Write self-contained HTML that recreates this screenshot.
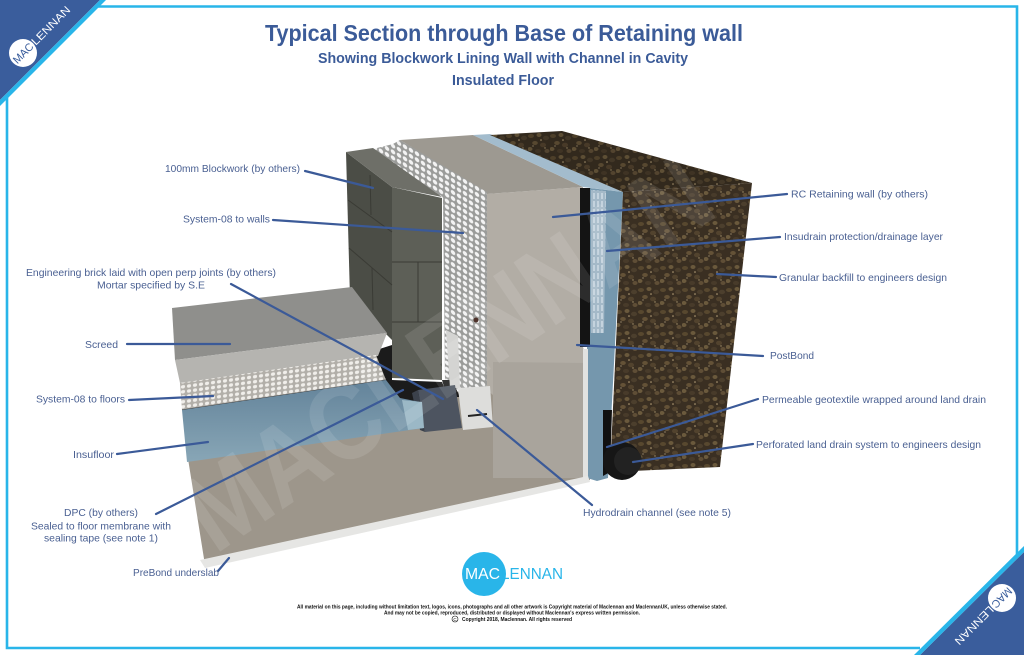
<!DOCTYPE html>
<html><head><meta charset="utf-8"><style>
html,body{margin:0;padding:0;background:#fff;width:1024px;height:655px;overflow:hidden}
svg{display:block}
</style></head><body>
<svg width="1024" height="655" viewBox="0 0 1024 655" xmlns="http://www.w3.org/2000/svg" font-family="'Liberation Sans', Arial, sans-serif">
<defs>
<pattern id="soil" width="22" height="22" patternUnits="userSpaceOnUse">
<rect width="22" height="22" fill="#3a2f22"/>
<ellipse cx="3" cy="4" rx="3" ry="2" fill="#58482f"/>
<ellipse cx="11" cy="3" rx="2.5" ry="2" fill="#6a593c"/>
<ellipse cx="18" cy="6" rx="3" ry="2.2" fill="#4c3f2d"/>
<ellipse cx="7" cy="11" rx="2.8" ry="2" fill="#645237"/>
<ellipse cx="15" cy="13" rx="3" ry="2.3" fill="#52432e"/>
<ellipse cx="2" cy="17" rx="2.5" ry="2" fill="#6b5a3d"/>
<ellipse cx="10" cy="19" rx="3" ry="2" fill="#483b2a"/>
<ellipse cx="19" cy="19" rx="2.5" ry="2" fill="#5f4e36"/>
<circle cx="13" cy="8" r="0.8" fill="#b8a27a"/>
<circle cx="5" cy="14" r="0.6" fill="#c0ad88"/>
<circle cx="17" cy="16" r="0.7" fill="#a8956e"/>
</pattern>
<pattern id="dimW" width="6" height="6" patternUnits="userSpaceOnUse" patternTransform="skewY(30)">
<rect width="6" height="6" fill="#9a9b99"/><ellipse cx="3" cy="3" rx="2.3" ry="2.1" fill="#f3f3f3"/>
</pattern>
<pattern id="dimF" width="6" height="5" patternUnits="userSpaceOnUse" patternTransform="skewY(-8)">
<rect width="6" height="5" fill="#b2afa9"/><ellipse cx="3" cy="2.5" rx="2.1" ry="1.7" fill="#f0eeea"/>
</pattern>
<pattern id="drn" width="4" height="8" patternUnits="userSpaceOnUse">
<rect width="4" height="8" fill="#a4b9c8"/><rect x="1" y="1" width="2" height="6" fill="#c4d3de"/>
</pattern>
<linearGradient id="ins" x1="0" y1="0" x2="0" y2="1">
<stop offset="0" stop-color="#63839a"/><stop offset="1" stop-color="#88a6b6"/>
</linearGradient>
</defs>

<!-- frame -->
<polyline points="96,6.5 1017,6.5 1017,556" fill="none" stroke="#29b5e9" stroke-width="2.6"/>
<polyline points="7,96 7,648 920,648" fill="none" stroke="#29b5e9" stroke-width="2.6"/>
<polygon points="0,0 100,0 0,100" fill="#3a5d9c"/>
<polygon points="100,0 106,0 0,106 0,100" fill="#29b5e9"/>
<circle cx="23" cy="53" r="14" fill="#fff"/>
<g transform="translate(23,53) rotate(-45)">
<text x="-12" y="4" font-size="11" fill="#3a5d9c" textLength="24" lengthAdjust="spacingAndGlyphs">MAC</text>
<text x="14" y="4" font-size="11" fill="#fff" textLength="50" lengthAdjust="spacingAndGlyphs">LENNAN</text>
</g>
<polygon points="1024,552 1024,655 920,655" fill="#3a5d9c"/>
<polygon points="1024,546 1024,552 920,655 914,655" fill="#29b5e9"/>
<circle cx="1002" cy="598" r="14" fill="#fff"/>
<g transform="translate(1002,598) rotate(135)">
<text x="-12" y="4" font-size="11" fill="#3a5d9c" textLength="24" lengthAdjust="spacingAndGlyphs">MAC</text>
<text x="14" y="4" font-size="11" fill="#fff" textLength="50" lengthAdjust="spacingAndGlyphs">LENNAN</text>
</g>

<!-- titles -->
<text x="265" y="41" font-size="23" font-weight="bold" fill="#3b5b98" textLength="478" lengthAdjust="spacingAndGlyphs">Typical Section through Base of Retaining wall</text>
<text x="318" y="63" font-size="14.5" font-weight="bold" fill="#3b5b98" textLength="370" lengthAdjust="spacingAndGlyphs">Showing Blockwork Lining Wall with Channel in Cavity</text>
<text x="452" y="85" font-size="14.5" font-weight="bold" fill="#3b5b98" textLength="102" lengthAdjust="spacingAndGlyphs">Insulated Floor</text>

<!-- base slab -->
<polygon points="185,440 422,400 487,385 587,360 590,480 205,565" fill="#9d968b"/>
<!-- wall front face -->
<polygon points="487,194 583,187 583,347 588,363 588,478 493,478 493,395 487,390" fill="#b2ada5"/>
<polygon points="493,362 588,363 588,478 493,478" fill="#a9a49c"/>
<!-- wall top -->
<polygon points="400,140 473,135 583,187 487,194" fill="#9d9991"/>
<!-- blue top -->
<polygon points="473,135 490,134 623,192 583,187" fill="#a3bccd"/>
<!-- postbond black strip -->
<polygon points="580,188 591,188 591,347 580,347" fill="#141414"/>
<!-- blue front -->
<polygon points="590,188 623,192 608,478 597,481 587,478 587,347 590,347" fill="#7597ad"/>
<polygon points="591,190 606,191 604,333 591,333" fill="url(#drn)"/>
<polygon points="583,349 588,349 588,478 583,478" fill="#e2e2e0"/>
<!-- backfill -->
<polygon points="490,135 562,131 752,183 623,192" fill="url(#soil)"/>
<polygon points="490,135 562,131 752,183 623,192" fill="#000" opacity="0.12"/>
<polygon points="623,192 752,183 720,467 610,472" fill="url(#soil)"/>
<polygon points="603,410 612,410 610,472 603,476" fill="#111"/>
<!-- land drain -->
<circle cx="622" cy="461" r="19" fill="#161616"/>
<circle cx="628" cy="461" r="14" fill="#222"/>

<!-- system-08 wall panel -->
<polygon points="393,144 400,140 487,192 487,388 462,392 445,382 443,198 373,149" fill="url(#dimW)"/>
<circle cx="476" cy="320" r="2.5" fill="#3a1a12"/>

<!-- blockwork -->
<polygon points="346,152 392,187 392,340 350,298" fill="#4b4d46"/>
<polygon points="392,187 442,198 442,380 392,378" fill="#5d5f57"/>
<polygon points="346,152 373,148 442,197 392,187" fill="#6e6f68"/>
<g stroke="#3a3b35" stroke-width="1" fill="none">
<line x1="348" y1="200" x2="392" y2="232"/>
<line x1="349" y1="248" x2="392" y2="285"/>
<line x1="392" y1="262" x2="442" y2="262"/>
<line x1="392" y1="322" x2="442" y2="322"/>
<line x1="370" y1="175" x2="371" y2="215"/>
<line x1="372" y1="268" x2="373" y2="310"/>
<line x1="418" y1="262" x2="418" y2="322"/>
</g>
<!-- black DPC -->
<polygon points="367,353 392,345 392,380 442,382 447,394 420,402 398,400 380,380 375,358" fill="#1b1b1b"/>
<polygon points="442,380 452,380 460,397 447,397" fill="#1b1b1b"/>
<!-- channel -->
<polygon points="446,330 458,336 460,388 450,388" fill="#d4d4d2"/>
<polygon points="458,388 490,386 493,427 463,430" fill="#dddddb"/>
<line x1="468" y1="416" x2="487" y2="414" stroke="#222" stroke-width="2"/>
<!-- brick -->
<polygon points="418,390 455,385 462,428 425,432" fill="#4d5460"/>
<polygon points="412,393 418,390 425,432 420,430" fill="#3b414b"/>

<!-- screed -->
<polygon points="172,308 352,287 387,333 175,360" fill="#8f8f8c"/>
<polygon points="175,360 387,333 378,356 180,383" fill="#b5b4b0"/>
<!-- dimple floor -->
<polygon points="180,383 376,355 386,380 182,410" fill="url(#dimF)"/>
<line x1="182" y1="410" x2="386" y2="380" stroke="#444" stroke-width="1"/>
<!-- insufloor -->
<polygon points="182,410 386,380 400,398 420,402 424,428 187,462" fill="url(#ins)"/>
<polygon points="402,400 422,402 424,428 408,430" fill="#9bb8c6"/>
<!-- prebond -->
<polygon points="200,560 588,476 590,482 205,568" fill="#e6e6e4"/>

<!-- watermark -->
<text transform="translate(215,555) rotate(-34)" font-size="110" font-weight="bold" fill="#fff" opacity="0.10" textLength="610" lengthAdjust="spacingAndGlyphs">MACLENNAN</text>

<!-- leader lines -->
<g stroke="#3b5a98" stroke-width="2.2" stroke-linecap="round" fill="none">
<line x1="305" y1="171" x2="373" y2="188"/>
<line x1="273" y1="220" x2="463" y2="233"/>
<line x1="231" y1="284" x2="443" y2="399"/>
<line x1="127" y1="344" x2="230" y2="344"/>
<line x1="129" y1="400" x2="213" y2="396"/>
<line x1="117" y1="454" x2="208" y2="442"/>
<line x1="156" y1="514" x2="403" y2="390"/>
<line x1="218" y1="571" x2="229" y2="558"/>
<line x1="592" y1="505" x2="477" y2="410"/>
<line x1="787" y1="194" x2="553" y2="217"/>
<line x1="780" y1="237" x2="607" y2="251"/>
<line x1="776" y1="277" x2="717" y2="274"/>
<line x1="763" y1="356" x2="577" y2="345"/>
<line x1="758" y1="399" x2="607" y2="447"/>
<line x1="753" y1="444" x2="633" y2="462"/>
</g>

<!-- labels -->
<g font-size="10.3" fill="#4a6092">
<text x="165" y="172" textLength="135" lengthAdjust="spacingAndGlyphs">100mm Blockwork (by others)</text>
<text x="183" y="222.5" textLength="87" lengthAdjust="spacingAndGlyphs">System-08 to walls</text>
<text x="26" y="276" textLength="250" lengthAdjust="spacingAndGlyphs">Engineering brick laid with open perp joints (by others)</text>
<text x="97" y="288.5" textLength="108" lengthAdjust="spacingAndGlyphs">Mortar specified by S.E</text>
<text x="85" y="348" textLength="33" lengthAdjust="spacingAndGlyphs">Screed</text>
<text x="36" y="402.5" textLength="89" lengthAdjust="spacingAndGlyphs">System-08 to floors</text>
<text x="73" y="458" textLength="41" lengthAdjust="spacingAndGlyphs">Insufloor</text>
<text x="64" y="516" textLength="74" lengthAdjust="spacingAndGlyphs">DPC (by others)</text>
<text x="31" y="529.5" textLength="140" lengthAdjust="spacingAndGlyphs">Sealed to floor membrane with</text>
<text x="44" y="541.5" textLength="114" lengthAdjust="spacingAndGlyphs">sealing tape (see note 1)</text>
<text x="133" y="576" textLength="86" lengthAdjust="spacingAndGlyphs">PreBond underslab</text>
<text x="583" y="516" textLength="148" lengthAdjust="spacingAndGlyphs">Hydrodrain channel (see note 5)</text>
<text x="791" y="197.5" textLength="137" lengthAdjust="spacingAndGlyphs">RC Retaining  wall (by others)</text>
<text x="784" y="240" textLength="159" lengthAdjust="spacingAndGlyphs">Insudrain protection/drainage layer</text>
<text x="779" y="281" textLength="168" lengthAdjust="spacingAndGlyphs">Granular backfill to engineers design</text>
<text x="770" y="359" textLength="44" lengthAdjust="spacingAndGlyphs">PostBond</text>
<text x="762" y="403" textLength="224" lengthAdjust="spacingAndGlyphs">Permeable geotextile wrapped around land drain</text>
<text x="756" y="448" textLength="225" lengthAdjust="spacingAndGlyphs">Perforated land drain system to engineers design</text>
</g>

<!-- footer logo -->
<circle cx="484" cy="574" r="22" fill="#29b5e9"/>
<text x="465" y="579" font-size="16" fill="#fff" textLength="35" lengthAdjust="spacingAndGlyphs">MAC</text>
<text x="501" y="579" font-size="16" fill="#29b5e9" textLength="62" lengthAdjust="spacingAndGlyphs">LENNAN</text>
<g font-size="5.3" font-weight="bold" fill="#111">
<text x="297" y="608.5" textLength="430" lengthAdjust="spacingAndGlyphs">All material on this page, including without limitation text, logos, icons, photographs and all other artwork is Copyright material of Maclennan and MaclennanUK, unless otherwise stated.</text>
<text x="384" y="614.5" textLength="256" lengthAdjust="spacingAndGlyphs">And may not be copied, reproduced, distributed or displayed without Maclennan's express written permission.</text>
<text x="462" y="621" textLength="110" lengthAdjust="spacingAndGlyphs">Copyright 2018, Maclennan. All rights reserved</text>
</g>
<circle cx="455" cy="619" r="3" fill="none" stroke="#111" stroke-width="0.6"/>
<text x="453.4" y="620.8" font-size="4.5" fill="#111">C</text>
</svg>
</body></html>
